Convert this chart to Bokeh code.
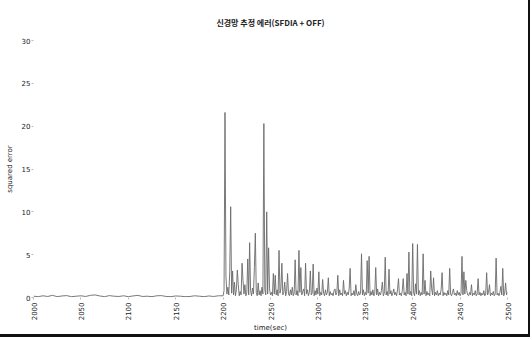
import math
from bokeh.plotting import figure
from bokeh.models import ColumnDataSource, FixedTicker, Range1d
from bokeh.embed import file_html
from bokeh.resources import INLINE

# Neural-network estimation squared error over time (SFDIA + OFF)
title_text = "신경망 추정 에러(SFDIA + OFF)"
x_label = "time(sec)"
y_label = "squared error"

x_ticks = [2000, 2050, 2100, 2150, 2200, 2250, 2300, 2350, 2400, 2450, 2500]
y_ticks = [0, 5, 10, 15, 20, 25, 30]

# quiet period, sampled every 5 s from 2000 to 2195
pre_step = 5
pre_error = [
    0.15, 0.10, 0.20, 0.12, 0.25, 0.10, 0.18, 0.22, 0.10, 0.15,
    0.20, 0.12, 0.25, 0.30, 0.18, 0.10, 0.22, 0.15, 0.12, 0.20,
    0.10, 0.18, 0.25, 0.12, 0.15, 0.10, 0.20, 0.22, 0.12, 0.10,
    0.18, 0.15, 0.10, 0.12, 0.20, 0.15, 0.10, 0.18, 0.12, 0.20,
]

# active period, sampled every 1 s from 2200 onward
post_error = [
    0.2, 0.8, 21.6, 2.5, 0.4, 1.2, 0.3, 3.0, 10.6, 0.5,
    3.1, 0.3, 1.8, 0.2, 0.9, 3.2, 1.5, 0.2, 0.7, 0.3,
    4.0, 2.0, 0.4, 1.5, 0.2, 0.6, 4.5, 0.3, 6.4, 0.8,
    0.2, 1.1, 0.4, 3.5, 7.5, 0.6, 0.2, 1.7, 0.3, 0.8,
    0.2, 1.2, 0.4, 20.3, 0.9, 0.3, 10.0, 0.4, 5.8, 1.0,
    0.3, 0.6, 0.2, 2.8, 0.4, 2.6, 0.3, 0.9, 0.2, 5.5,
    0.5, 1.1, 4.0, 0.3, 0.6, 1.8, 0.2, 0.7, 2.8, 0.4,
    0.2, 0.9, 0.3, 1.2, 0.2, 0.5, 4.4, 0.3, 0.8, 0.2,
    5.5, 0.6, 3.5, 0.3, 0.7, 1.0, 0.2, 4.0, 0.4, 0.9,
    0.2, 0.6, 3.1, 0.3, 0.5, 3.9, 0.2, 0.8, 0.3, 1.1,
    0.4, 3.0, 0.2, 0.6, 0.3, 2.1, 0.5, 0.2, 0.9, 0.3,
    0.6, 2.3, 0.2, 0.7, 0.3, 0.5, 0.2, 0.8, 1.0, 0.3,
    0.6, 2.6, 0.2, 0.9, 0.3, 0.5, 0.2, 2.0, 0.4, 0.8,
    0.2, 0.6, 0.3, 1.0, 3.4, 0.2, 0.5, 0.3, 0.8, 0.2,
    1.5, 0.4, 0.2, 0.7, 0.3, 0.5, 5.1, 0.3, 0.9, 0.2,
    0.6, 0.3, 4.3, 0.5, 4.8, 0.2, 0.7, 0.3, 0.9, 0.2,
    0.5, 3.5, 0.3, 1.0, 0.2, 0.6, 0.3, 0.8, 1.8, 0.2,
    0.5, 4.7, 0.3, 0.7, 0.2, 3.3, 0.4, 0.8, 0.2, 0.5,
    1.0, 0.3, 0.6, 0.2, 0.9, 2.2, 0.3, 0.5, 0.2, 0.8,
    2.2, 0.3, 0.6, 0.2, 2.8, 0.4, 5.3, 0.3, 0.7, 0.2,
    6.3, 0.5, 0.2, 1.6, 0.4, 6.2, 0.3, 0.8, 0.2, 0.6,
    0.3, 5.1, 0.4, 2.0, 0.2, 0.7, 0.3, 0.5, 0.2, 3.1,
    1.0, 0.3, 2.3, 0.2, 0.6, 0.3, 0.8, 0.2, 0.5, 0.3,
    0.9, 2.9, 0.2, 0.6, 0.3, 0.5, 0.2, 0.8, 0.3, 3.4,
    0.4, 0.2, 0.6, 1.0, 0.3, 0.5, 0.2, 0.8, 0.3, 0.6,
    0.2, 0.5, 4.8, 0.3, 3.0, 0.4, 2.0, 0.8, 0.3, 0.2,
    0.6, 0.3, 1.5, 0.2, 0.5, 0.3, 0.8, 0.2, 0.4, 2.2,
    0.3, 0.6, 0.2, 0.5, 0.3, 0.8, 0.2, 0.4, 2.9, 0.3,
    0.6, 1.5, 0.2, 0.5, 0.3, 0.7, 0.2, 0.4, 4.6, 0.3,
    0.5, 0.2, 0.6, 1.3, 0.3, 3.4, 0.2, 0.5, 1.7, 0.3,
    0.6,
]

pre_time = [2000 + pre_step * i for i in range(len(pre_error))]
post_time = [2200 + i for i in range(len(post_error))]

source = ColumnDataSource(data=dict(
    t=pre_time + post_time,
    err=pre_error + post_error,
))

p = figure(
    width=530, height=337,
    output_backend="svg", toolbar_location=None,
    x_range=Range1d(2000, 2500), y_range=Range1d(0, 30),
    min_border_left=33, min_border_right=23,
    min_border_top=40, min_border_bottom=40,
    background_fill_color="white", border_fill_color="white",
)
p.styles = {"border-right": "2px solid #111", "border-bottom": "3px solid #111"}

p.line("t", "err", source=source, line_color="#6a6a6a", line_width=0.9)

p.title.text = title_text
p.title.align = "center"
p.title.text_font = "Noto Sans CJK KR"
p.title.text_font_size = "8px"
p.title.text_font_style = "bold"
p.title.text_color = "#222222"
p.title.offset = 0
p.title.standoff = 26

p.outline_line_color = None
p.xgrid.grid_line_color = None
p.ygrid.grid_line_color = None

for ax in (p.xaxis[0], p.yaxis[0]):
    ax.axis_line_color = None
    ax.major_tick_line_color = "#bbbbbb"
    ax.minor_tick_line_color = None
    ax.major_tick_in = 0
    ax.major_tick_out = 2
    ax.major_label_text_font = "DejaVu Sans"
    ax.major_label_text_font_size = "7px"
    ax.major_label_text_color = "#222222"
    ax.axis_label_text_font = "DejaVu Sans"
    ax.axis_label_text_font_size = "7px"
    ax.axis_label_text_font_style = "normal"
    ax.axis_label_text_color = "#222222"

p.xaxis.ticker = FixedTicker(ticks=x_ticks)
p.yaxis.ticker = FixedTicker(ticks=y_ticks)
p.xaxis.major_label_orientation = math.pi / 2
p.xaxis.axis_label = x_label
p.yaxis.axis_label = y_label
p.xaxis.major_label_standoff = 3
p.yaxis.major_label_standoff = 1
p.xaxis.axis_label_standoff = 1
p.yaxis.axis_label_standoff = 5

open("out.html", "w").write(file_html(p, INLINE))
